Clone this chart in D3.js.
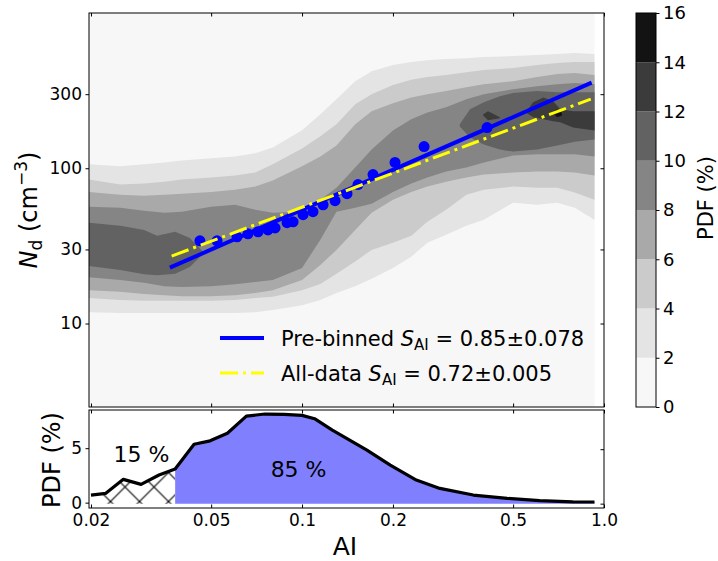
<!DOCTYPE html>
<html>
<head>
<meta charset="utf-8">
<script src="https://cdn.jsdelivr.net/npm/d3@7"></script>
<style>
  body { margin: 0; background: #fff; }
  svg { display: block; font-family: "DejaVu Sans", sans-serif; }
</style>
</head>
<body>
<svg id="chart" width="718" height="561"></svg>
<script>
// ---- data ----
// contour bands: AI stations, upper / lower Nd edge of each PDF level
const aiGrid = [0.0197, 0.025, 0.03, 0.035, 0.04, 0.05, 0.06, 0.07, 0.08, 0.1, 0.115, 0.13, 0.15, 0.17, 0.2, 0.23, 0.26, 0.3, 0.35, 0.4, 0.5, 0.6, 0.7, 0.8, 0.93];
const band2Top = [106, 103, 106, 109, 112, 116, 119, 125, 136, 176, 223, 278, 364, 422, 462, 483, 497, 505, 512, 520, 528, 536, 544, 552, 544];
const band2Bot = [11.8, 11.7, 11.7, 11.7, 11.7, 11.7, 11.7, 11.8, 12.2, 13.1, 14.2, 15.7, 17.4, 19.4, 22.8, 26.9, 33.1, 37.3, 42.6, 46.6, 60.0, 58.2, 60.0, 55.7, 46.6];
const band4Top = [84.5, 78.5, 79.7, 82.0, 84.5, 87.1, 89.7, 93.8, 106, 134, 161, 192, 258, 300, 344, 371, 387, 399, 416, 429, 442, 462, 476, 483, 483];
const band4Bot = [14.6, 14.2, 14.0, 14.0, 14.0, 14.0, 14.2, 14.6, 14.9, 16.4, 18.0, 20.9, 25.1, 29.8, 33.1, 36.7, 45.2, 54.1, 67.6, 72.8, 76.2, 75.0, 75.0, 69.7, 62.8];
const band6Top = [70.4, 67.6, 66.6, 67.6, 68.6, 70.4, 72.8, 76.2, 83.3, 103, 119, 140, 192, 233, 262, 286, 300, 314, 333, 348, 364, 387, 404, 410, 398];
const band6Bot = [16.4, 16.0, 15.5, 15.2, 15.0, 15.0, 15.2, 15.7, 16.4, 19.1, 23.8, 29.8, 40.1, 51.7, 62.8, 70.4, 76.2, 82.0, 87.1, 91.0, 93.8, 95.2, 95.2, 93.8, 89.7];
const band8Top = [56.5, 55.7, 53.3, 51.7, 52.5, 56.5, 58.2, 54.1, 51.7, 52.5, 62.8, 75.0, 101, 132, 175, 207, 229, 247, 278, 300, 323, 338, 348, 354, 348];
const band8Bot = [19.9, 19.1, 18.3, 17.4, 17.2, 17.4, 17.9, 18.5, 19.1, 22.8, 34.6, 52.5, 55.7, 59.1, 70.4, 79.7, 87.1, 95.2, 101, 109, 121, 123, 123, 123, 119];
const band10aAI = [0.0197, 0.025, 0.03, 0.0331, 0.038, 0.0425, 0.047];
const band10aTop = [44.6, 42.6, 40.1, 36.7, 39.0, 35.6, 29.0];
const band10aBot = [23.5, 22.1, 20.8, 20.5, 20.9, 23.1, 28.1];
const band10bAI = [0.333, 0.36, 0.40, 0.452, 0.5, 0.6, 0.7, 0.8, 0.93];
const band10bTop = [192, 240, 266, 291, 305, 314, 309, 309, 309];
const band10bBot = [186, 158, 142, 132, 128, 132, 140, 148, 153];
const band12aAI = [0.398, 0.413, 0.452];
const band12aTop = [223, 233, 213];
const band12aBot = [219, 204, 210];
const band12bAI = [0.556, 0.583, 0.63, 0.679, 0.716, 0.79, 0.93];
const band12bTop = [236, 266, 286, 270, 240, 233, 233];
const band12bBot = [226, 213, 207, 201, 198, 183, 175];
const band14AI = [0.679, 0.70, 0.726];
const band14Top = [233, 240, 226];
const band14Bot = [226, 213, 219];

// pre-binned points
const binAI = [0.0459, 0.0523, 0.0609, 0.0662, 0.0715, 0.0771, 0.0814, 0.0892, 0.0934, 0.1008, 0.1087, 0.1174, 0.1286, 0.1409, 0.1532, 0.1718, 0.2032, 0.2536, 0.41];
const binNd = [34.1, 34.1, 36.2, 37.8, 39.0, 40.1, 41.3, 44.6, 45.2, 50.2, 52.5, 58.2, 61.8, 68.6, 78.5, 91, 109, 138, 183];

// fit lines (end points)
const preFitAI = [0.0365, 0.91];
const preFitNd = [22.9, 356];
const allFitAI = [0.037, 0.904];
const allFitNd = [27.2, 279];

// PDF of AI (bottom panel)
const pdfAI = [0.0200, 0.0224, 0.0256, 0.0293, 0.0336, 0.0380, 0.0439, 0.0496, 0.0566, 0.0654, 0.0754, 0.0872, 0.100, 0.110, 0.126, 0.164, 0.196, 0.239, 0.286, 0.369, 0.478, 0.612, 0.788, 0.93];
const pdfVal = [0.79, 0.95, 2.23, 1.77, 2.63, 3.18, 5.45, 5.77, 6.46, 8.04, 8.23, 8.20, 8.11, 7.80, 6.76, 4.92, 3.54, 2.17, 1.40, 0.79, 0.49, 0.27, 0.17, 0.15];
const splitAI = 0.038;

const xTicks = [0.02, 0.05, 0.1, 0.2, 0.5, 1.0];
const xTickLabels = ["0.02", "0.05", "0.1", "0.2", "0.5", "1.0"];
const ndTicks = [10, 30, 100, 300];
const pdfTicks = [0, 5];
const cbLevels = [0, 2, 4, 6, 8, 10, 12, 14, 16];

// ---- layout ----
const L = 89, R = 604, T = 13, B = 407, BT = 410, BB = 508;
const svg = d3.select("#chart");

const x = d3.scaleLog().domain([0.0197, 1]).range([L, R]);
const y = d3.scaleLog().domain([2.9, 1000]).range([B, T]);
const yb = d3.scaleLinear().domain([-0.4, 8.6]).range([BB, BT]);
const cy = d3.scaleLinear().domain([0, 16]).range([B, T]);
const grey = v => d3.interpolateGreys((v + 1) / 16);

const zip = (a, t, b) => a.map((v, i) => [v, t[i], b[i]]);
const bands = [
  { level: 2, parts: [zip(aiGrid, band2Top, band2Bot)] },
  { level: 4, parts: [zip(aiGrid, band4Top, band4Bot)] },
  { level: 6, parts: [zip(aiGrid, band6Top, band6Bot)] },
  { level: 8, parts: [zip(aiGrid, band8Top, band8Bot)] },
  { level: 10, parts: [zip(band10aAI, band10aTop, band10aBot), zip(band10bAI, band10bTop, band10bBot)] },
  { level: 12, parts: [zip(band12aAI, band12aTop, band12aBot), zip(band12bAI, band12bTop, band12bBot)] },
  { level: 14, parts: [zip(band14AI, band14Top, band14Bot)] }
];

svg.append("clipPath").attr("id", "clipTop")
  .append("rect").attr("x", L).attr("y", T).attr("width", R - L).attr("height", B - T);

const topG = svg.append("g").attr("clip-path", "url(#clipTop)");
topG.append("rect")
  .attr("x", x(0.0197)).attr("y", T)
  .attr("width", x(0.93) - x(0.0197)).attr("height", B - T)
  .attr("fill", grey(0));

const band = d3.area()
  .x(d => x(d[0])).y0(d => y(d[2])).y1(d => y(d[1]));

bands.forEach(b => {
  b.parts.forEach(p => {
    topG.append("path").attr("d", band(p)).attr("fill", grey(b.level));
  });
});

// points and fits
topG.selectAll("circle.bin").data(binAI).enter().append("circle")
  .attr("cx", d => x(d)).attr("cy", (d, i) => y(binNd[i])).attr("r", 5.5)
  .attr("fill", "#0000ff");

const line = d3.line().x(d => x(d[0])).y(d => y(d[1]));
topG.append("path").attr("d", line(preFitAI.map((a, i) => [a, preFitNd[i]])))
  .attr("stroke", "#0000ff").attr("stroke-width", 4).attr("fill", "none");
topG.append("path").attr("d", line(allFitAI.map((a, i) => [a, allFitNd[i]])))
  .attr("stroke", "#ffff00").attr("stroke-width", 3).attr("fill", "none")
  .attr("stroke-dasharray", "18,5,3,5");

// legend
const leg = svg.append("g").attr("font-size", 21);
const legRows = [
  { c: "#0000ff", w: 4, dash: null, a: "Pre-binned ", b: " = 0.85±0.078", yy: 338 },
  { c: "#ffff00", w: 3, dash: "18,5,3,5", a: "All-data ", b: " = 0.72±0.005", yy: 373 }
];
legRows.forEach(r => {
  leg.append("line").attr("x1", 220).attr("x2", 264).attr("y1", r.yy).attr("y2", r.yy)
    .attr("stroke", r.c).attr("stroke-width", r.w).attr("stroke-dasharray", r.dash);
  const t = leg.append("text").attr("x", 281).attr("y", r.yy + 7.5);
  t.append("tspan").text(r.a);
  t.append("tspan").attr("font-style", "italic").text("S");
  t.append("tspan").attr("font-size", 15).attr("dy", 4).text("AI");
  t.append("tspan").attr("dy", -4).text(r.b);
});

// ---- bottom panel ----
svg.append("clipPath").attr("id", "clipBot")
  .append("rect").attr("x", L).attr("y", BT).attr("width", R - L).attr("height", BB - BT);
const botG = svg.append("g").attr("clip-path", "url(#clipBot)");

const defs = svg.append("defs");
const pat = defs.append("pattern").attr("id", "hatch").attr("patternUnits", "userSpaceOnUse")
  .attr("width", 29).attr("height", 29).attr("x", 110.5).attr("y", 472.5);
pat.append("path").attr("d", "M0,0L29,29M0,29L29,0M-1,1L1,-1M28,30L30,28")
  .attr("stroke", "#000").attr("stroke-width", 1.1);

const pdfPts = pdfAI.map((a, i) => [a, pdfVal[i]]);
const pdfArea = d3.area().x(d => x(d[0])).y0(yb(0)).y1(d => yb(d[1]));
botG.append("path").attr("d", pdfArea(pdfPts.filter(d => d[0] <= splitAI)))
  .attr("fill", "url(#hatch)");
botG.append("path").attr("d", pdfArea(pdfPts.filter(d => d[0] >= splitAI)))
  .attr("fill", "#8080ff");
botG.append("path").attr("d", d3.line().x(d => x(d[0])).y(d => yb(d[1]))(pdfPts))
  .attr("fill", "none").attr("stroke", "#000").attr("stroke-width", 3.2)
  .attr("stroke-linejoin", "round");

svg.append("text").attr("x", x(0.0294)).attr("y", yb(3.85)).attr("text-anchor", "middle")
  .attr("font-size", 22).text("15 %");
svg.append("text").attr("x", x(0.0974)).attr("y", yb(2.47)).attr("text-anchor", "middle")
  .attr("font-size", 22).text("85 %");

// ---- frames and axes ----
function frame(y0, y1) {
  svg.append("rect").attr("x", L).attr("y", y0).attr("width", R - L).attr("height", y1 - y0)
    .attr("fill", "none").attr("stroke", "#000").attr("stroke-width", 1);
}
frame(T, B);
frame(BT, BB);

function axis(gen, tx, ty) {
  const g = svg.append("g").attr("transform", `translate(${tx},${ty})`).call(gen);
  g.select(".domain").remove();
  g.selectAll("line").attr("stroke", "#000");
  g.selectAll("text").attr("fill", "#000").attr("font-size", 17).attr("font-family", "DejaVu Sans");
  return g;
}

axis(d3.axisLeft(y).tickValues(ndTicks).tickFormat(d3.format("d")).tickSize(3.5).tickPadding(3.5), L, 0);
axis(d3.axisLeft(y).tickValues(ndTicks).tickFormat("").tickSize(3.5), R, 0);
axis(d3.axisBottom(x).tickValues(xTicks).tickFormat("").tickSize(3.5), 0, T);
axis(d3.axisTop(x).tickValues(xTicks).tickFormat("").tickSize(3.5), 0, B);

axis(d3.axisLeft(yb).tickValues(pdfTicks).tickFormat(d3.format("d")).tickSize(3.5).tickPadding(3.5), L, -1);
axis(d3.axisLeft(yb).tickValues(pdfTicks).tickFormat("").tickSize(3.5), R, 0);
axis(d3.axisBottom(x).tickValues(xTicks).tickFormat("").tickSize(3.5), 0, BT);
axis(d3.axisBottom(x).tickValues(xTicks).tickFormat((d, i) => xTickLabels[i]).tickSize(-3.5).tickPadding(6), 0, BB);

// axis titles
const nd = svg.append("text").attr("transform", "translate(37,210) rotate(-90)")
  .attr("text-anchor", "middle").attr("font-size", 24);
nd.append("tspan").attr("font-style", "italic").text("N");
nd.append("tspan").attr("font-size", 17).attr("dy", 5).text("d");
nd.append("tspan").attr("dy", -5).text(" (cm");
nd.append("tspan").attr("font-size", 17).attr("dy", -10).text("−3");
nd.append("tspan").attr("dy", 10).text(")");

svg.append("text").attr("transform", "translate(60,460) rotate(-90)")
  .attr("text-anchor", "middle").attr("font-size", 24).text("PDF (%)");
svg.append("text").attr("x", 345).attr("y", 555).attr("text-anchor", "middle")
  .attr("font-size", 25).text("AI");

// ---- colorbar ----
const CL = 636, CR = 656;
svg.selectAll("rect.cb").data(cbLevels.slice(0, -1)).enter().append("rect")
  .attr("x", CL).attr("width", CR - CL)
  .attr("y", d => cy(d + 2)).attr("height", d => cy(d) - cy(d + 2))
  .attr("fill", d => grey(d));
svg.append("rect").attr("x", CL).attr("y", T).attr("width", CR - CL).attr("height", B - T)
  .attr("fill", "none").attr("stroke", "#000").attr("stroke-width", 1);
axis(d3.axisRight(cy).tickValues(cbLevels).tickFormat(d3.format("d")).tickSize(3.5).tickPadding(3.5), CR, 0)
  .selectAll("text").attr("font-size", 18);
svg.append("text").attr("transform", "translate(713,198) rotate(-90)")
  .attr("text-anchor", "middle").attr("font-size", 21).text("PDF (%)");
</script>
</body>
</html>
